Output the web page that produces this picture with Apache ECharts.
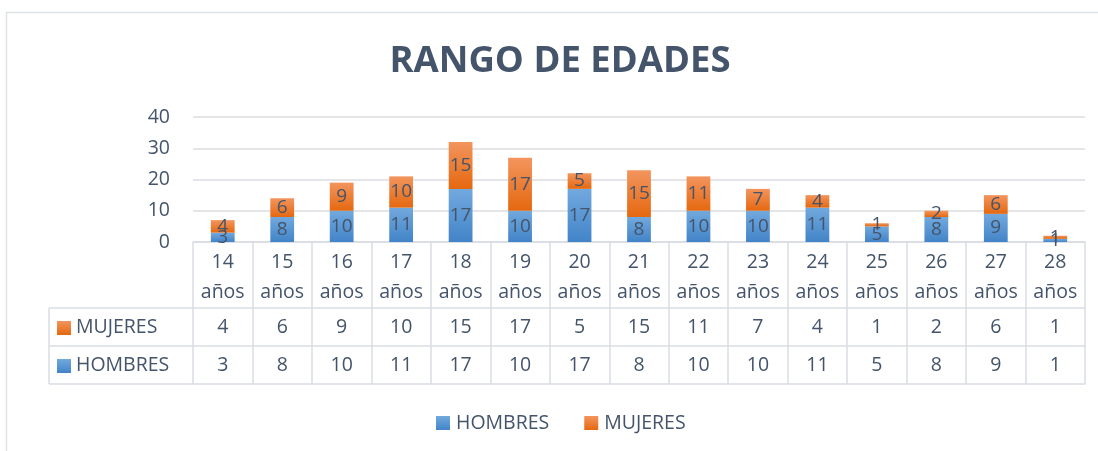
<!DOCTYPE html>
<html>
<head>
<meta charset="utf-8">
<script src="https://cdn.jsdelivr.net/npm/echarts@6/dist/echarts.min.js"></script>
<style>
html,body{margin:0;padding:0;background:#fff;}
#chart{width:1098px;height:451px;}
</style>
</head>
<body>
<div id="chart"></div>
<script>
var titleText = 'RANGO DE EDADES';
var categories = ['14 años','15 años','16 años','17 años','18 años','19 años','20 años','21 años','22 años','23 años','24 años','25 años','26 años','27 años','28 años'];
var hombres = [3, 8, 10, 11, 17, 10, 17, 8, 10, 10, 11, 5, 8, 9, 1];
var mujeres = [4, 6, 9, 10, 15, 17, 5, 15, 11, 7, 4, 1, 2, 6, 1];
var seriesNames = ['HOMBRES', 'MUJERES'];
var yTicks = [0, 10, 20, 30, 40];

var FONT = 'Open Sans';
var TXT = '#44546a';
var BORDER = '#d9dde3';
var blue = new echarts.graphic.LinearGradient(0,0,0,1,[{offset:0,color:'#72a9de'},{offset:1,color:'#4284c8'}]);
var orange = new echarts.graphic.LinearGradient(0,0,0,1,[{offset:0,color:'#f3955e'},{offset:1,color:'#e5680f'}]);

var chart = echarts.init(document.getElementById('chart'), null, {renderer:'canvas'});

function tableAxis(data, offset, showLabels) {
  return {
    type:'category', data:data, position:'bottom', offset:offset, gridIndex:0,
    axisLine:{show:true, lineStyle:{color:BORDER, width:1.5}},
    axisTick:{show:false},
    axisLabel:{show:showLabels, interval:0, margin:9, fontFamily:FONT, fontSize:19.5, color:TXT},
    splitLine:{show:false}
  };
}

var option = {
  backgroundColor:'#fff',
  animation:false,
  title:{
    text:titleText, left:555, top:38, textAlign:'center',
    textStyle:{fontFamily:FONT, fontWeight:'bold', fontSize:36.5, color:TXT}
  },
  legend:{
    data:seriesNames, left:431, top:408, icon:'rect', itemWidth:14, itemHeight:14, itemGap:35,
    textStyle:{fontFamily:FONT, fontSize:19.5, color:TXT, padding:[0,0,0,1]}
  },
  grid:{left:193, right:13, top:117, bottom:209, containLabel:false},
  xAxis:[
    {
      type:'category', data:categories, gridIndex:0,
      axisLine:{show:true, lineStyle:{color:BORDER, width:1.5}},
      axisTick:{show:true, length:142, interval:0, lineStyle:{color:BORDER, width:1.5}},
      axisLabel:{interval:0, margin:5, fontFamily:FONT, fontSize:19.5, lineHeight:30, color:TXT,
        formatter:function(v){ return v.replace(' ', '\n'); }},
      splitLine:{show:false}
    },
    tableAxis(mujeres.map(String), 66, true),
    tableAxis(hombres.map(String), 104, true),
    tableAxis(categories, 142, false)
  ],
  yAxis:{
    type:'value', min:yTicks[0], max:yTicks[yTicks.length-1], interval:10,
    axisLine:{show:false}, axisTick:{show:false},
    axisLabel:{margin:23, fontFamily:FONT, fontSize:19.5, color:TXT},
    splitLine:{lineStyle:{color:'#dadde2', width:1.5}}
  },
  series:[
    {
      name:seriesNames[0], type:'bar', stack:'total', data:hombres, barWidth:'40%',
      itemStyle:{color:blue},
      label:{show:true, position:'inside', fontFamily:FONT, fontSize:19, color:TXT}
    },
    {
      name:seriesNames[1], type:'bar', stack:'total', data:mujeres, barWidth:'40%',
      itemStyle:{color:orange},
      label:{show:true, position:'inside', fontFamily:FONT, fontSize:19, color:TXT}
    }
  ],
  graphic:[
    {type:'rect', silent:true, shape:{x:6.5, y:12.5, width:1200, height:500}, style:{fill:null, stroke:'#dfe2e6', lineWidth:1.5}},
    {type:'line', silent:true, shape:{x1:49, y1:308, x2:193, y2:308}, style:{stroke:BORDER, lineWidth:1.5}},
    {type:'line', silent:true, shape:{x1:49, y1:346, x2:193, y2:346}, style:{stroke:BORDER, lineWidth:1.5}},
    {type:'line', silent:true, shape:{x1:49, y1:384, x2:193, y2:384}, style:{stroke:BORDER, lineWidth:1.5}},
    {type:'line', silent:true, shape:{x1:49, y1:308, x2:49, y2:384}, style:{stroke:BORDER, lineWidth:1.5}},
    {type:'rect', silent:true, shape:{x:57, y:321, width:14, height:14}, style:{fill:orange}},
    {type:'text', silent:true, x:76, y:327, style:{text:seriesNames[1], fontFamily:FONT, fontSize:19.5, fill:TXT, verticalAlign:'middle'}},
    {type:'rect', silent:true, shape:{x:57, y:359, width:14, height:14}, style:{fill:blue}},
    {type:'text', silent:true, x:76, y:365, style:{text:seriesNames[0], fontFamily:FONT, fontSize:19.5, fill:TXT, verticalAlign:'middle'}}
  ]
};
chart.setOption(option);
</script>
</body>
</html>
